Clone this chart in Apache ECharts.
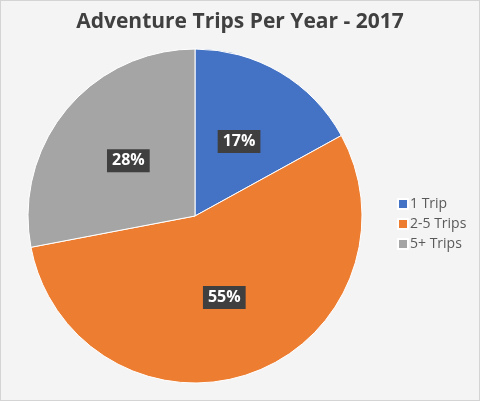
<!DOCTYPE html>
<html><head><meta charset="utf-8">
<script src="https://cdn.jsdelivr.net/npm/echarts@6/dist/echarts.min.js"></script>
<style>html,body{margin:0;padding:0;background:#f2f2f2}#c{width:478px;height:399px;border:1px solid #d4d4d4;background:#f4f4f4}</style>
</head><body><div id="c"></div>
<script>
const categories = ['1 Trip', '2-5 Trips', '5+ Trips'];
const values = [17, 55, 28];
const colors = ['#4472C4', '#ED7D31', '#A5A5A5'];
const titleText = 'Adventure Trips Per Year - 2017';

const chart = echarts.init(document.getElementById('c'));
chart.setOption({
  backgroundColor: 'transparent',
  title: {
    text: titleText, left: 'center', top: 6,
    textStyle: {fontFamily: 'Open Sans', fontSize: 21, fontWeight: 'bold', color: '#404040'}
  },
  legend: {
    orient: 'vertical', left: 391, top: 191,
    itemWidth: 10, itemHeight: 10, itemGap: 6,
    icon: 'rect',
    textStyle: {fontFamily: 'Open Sans', fontSize: 14, color: '#595959', padding: [0,0,0,-3]},
    data: categories
  },
  series: [{
    type: 'pie',
    center: [194, 215],
    radius: 167,
    startAngle: 90,
    clockwise: true,
    silent: true,
    animation: false,
    data: categories.map((c, i) => ({name: c, value: values[i], itemStyle: {color: colors[i]}})),
    itemStyle: {borderColor: '#ffffff', borderWidth: 1},
    label: {
      show: true, position: 'inside',
      formatter: p => p.value + '%',
      fontFamily: 'Open Sans', fontSize: 16, fontWeight: 'bold', color: '#ffffff',
      backgroundColor: '#3f3f3f', padding: [4, 5, 3, 5]
    },
    labelLine: {show: false}
  }]
});
</script></body></html>
